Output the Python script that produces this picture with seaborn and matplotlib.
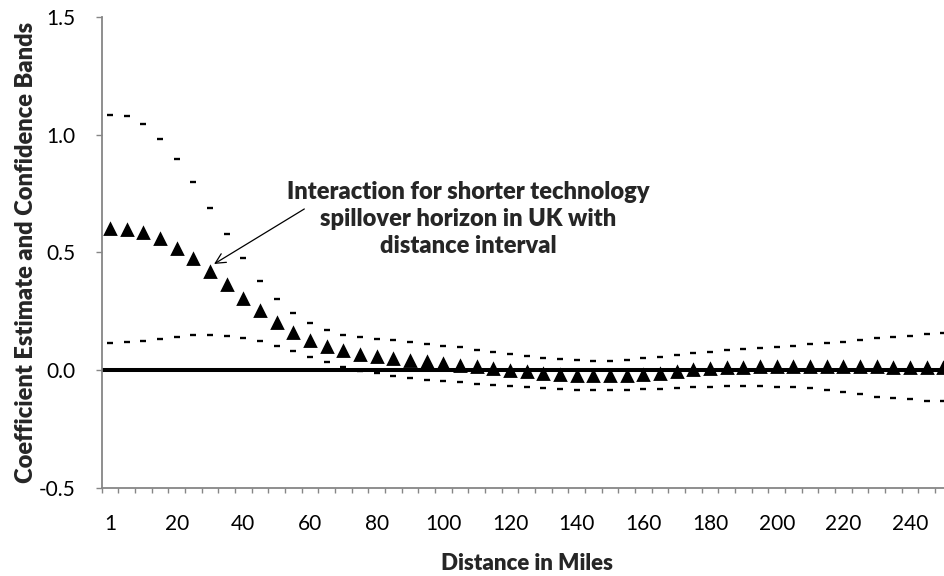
import matplotlib
matplotlib.use("Agg")
import matplotlib.pyplot as plt
import numpy as np
import pandas as pd
import seaborn as sns

# distance categories (miles)
distance = [1] + list(range(5, 251, 5))

estimate = [0.600, 0.595, 0.580, 0.555, 0.515, 0.470, 0.415, 0.360, 0.300, 0.250,
            0.200, 0.157, 0.122, 0.096, 0.079, 0.062, 0.054, 0.047, 0.040, 0.032,
            0.025, 0.018, 0.011, 0.004, -0.003, -0.010, -0.016, -0.021, -0.024, -0.027,
            -0.027, -0.024, -0.021, -0.017, -0.010, -0.002, 0.003, 0.007, 0.008, 0.011,
            0.012, 0.014, 0.014, 0.014, 0.012, 0.012, 0.012, 0.010, 0.009, 0.009, 0.008]

upper = [1.085, 1.079, 1.043, 0.983, 0.898, 0.798, 0.688, 0.576, 0.477, 0.377,
         0.303, 0.244, 0.198, 0.170, 0.149, 0.140, 0.132, 0.128, 0.118, 0.110,
         0.103, 0.096, 0.086, 0.078, 0.068, 0.058, 0.051, 0.045, 0.042, 0.040,
         0.040, 0.043, 0.051, 0.057, 0.062, 0.072, 0.078, 0.085, 0.089, 0.092,
         0.096, 0.102, 0.109, 0.115, 0.119, 0.128, 0.134, 0.142, 0.146, 0.151, 0.156]

lower = [0.116, 0.120, 0.125, 0.132, 0.142, 0.147, 0.149, 0.146, 0.137, 0.125,
         0.103, 0.082, 0.054, 0.035, 0.011, -0.006, -0.011, -0.027, -0.036, -0.043,
         -0.048, -0.053, -0.060, -0.064, -0.068, -0.071, -0.077, -0.081, -0.084, -0.084,
         -0.084, -0.085, -0.081, -0.080, -0.077, -0.071, -0.071, -0.068, -0.066, -0.069,
         -0.073, -0.074, -0.077, -0.085, -0.095, -0.104, -0.114, -0.121, -0.125, -0.131, -0.131]

y_ticks = [-0.5, 0.0, 0.5, 1.0, 1.5]

sns.set_theme(style="white")
plt.rcParams["font.family"] = ["Lato", "DejaVu Sans"]
plt.rcParams["axes.unicode_minus"] = False

df = pd.DataFrame({
    "distance": [str(d) for d in distance],
    "estimate": estimate,
    "upper": upper,
    "lower": lower,
})
order = df["distance"].tolist()

fig = plt.figure(figsize=(9.45, 5.76), dpi=100)
ax = fig.add_axes([101.7 / 945, 88.3 / 576, 850 / 945, 470.9 / 576])

ax.axhline(0, color="black", lw=2.9, zorder=1)

for col in ["upper", "lower"]:
    sns.pointplot(data=df, x="distance", y=col, order=order, errorbar=None,
                  linestyle="none", marker="_", markersize=4.3, markeredgewidth=1.7,
                  color="black", ax=ax, zorder=3)
sns.pointplot(data=df, x="distance", y="estimate", order=order, errorbar=None,
              linestyle="none", marker="^", markersize=7.2, color="black", ax=ax, zorder=3)

gray = "#868686"
ax.set_xlim(-0.5, len(order) - 0.5)
ax.set_ylim(-0.5, 1.5)
ax.set_yticks(y_ticks, labels=[f"{v:.1f}" for v in y_ticks])
label_idx = list(range(0, len(order), 4))
ax.set_xticks(label_idx, labels=[order[i] for i in label_idx])
ax.set_xticks(np.arange(-0.5, len(order), 1), minor=True)

for side in ["top", "right"]:
    ax.spines[side].set_visible(False)
for side in ["left", "bottom"]:
    ax.spines[side].set_color(gray)
    ax.spines[side].set_linewidth(1.3)

ax.tick_params(axis="y", which="major", direction="out", length=4, width=1, color=gray,
               pad=15, labelsize=15, labelcolor="black", left=True)
ax.tick_params(axis="x", which="major", length=0, pad=19, labelsize=15, labelcolor="black")
ax.tick_params(axis="x", which="minor", direction="out", length=3.5, width=1, color=gray, bottom=True)

ax.set_xlabel("Distance in Miles", fontsize=16, fontweight="heavy")
ax.set_ylabel("Coefficient Estimate and Confidence Bands", fontsize=17, fontweight="heavy")
ax.xaxis.set_label_coords(0.5, -0.138)
ax.yaxis.set_label_coords(-0.076, 0.5)

ax.annotate("", xy=(6.1, 0.444), xytext=(11.8, 0.69),
            arrowprops=dict(arrowstyle="->,head_length=0.6,head_width=0.3", lw=0.9, color="black"))
ax.text(21.5, 0.64, "Interaction for shorter technology\nspillover horizon in UK with\ndistance interval",
        ha="center", va="center", fontsize=17, fontweight="heavy", linespacing=1.28)

fig.savefig("out.png", dpi=100)
